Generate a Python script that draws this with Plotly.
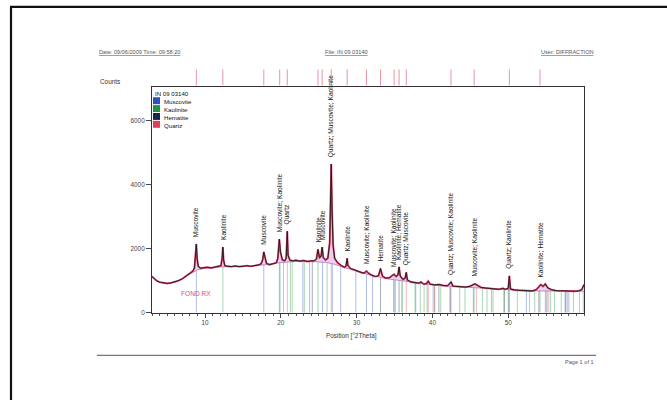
import numpy as np
import plotly.graph_objects as go

# ---- measured pattern (2Theta, counts) ----
obs_x = [3.0, 3.3, 3.6, 4.0, 4.5, 5.0, 5.5, 6.0, 6.5, 7.0, 7.5, 8.0, 8.4, 8.6, 8.75, 8.85, 8.95, 9.1, 9.4, 9.8,
         10.3, 10.8, 11.3, 11.8, 12.1, 12.25, 12.35, 12.45, 12.6, 13.0, 13.5, 14.0, 14.5, 15.0, 15.5, 16.0, 16.5,
         17.0, 17.4, 17.6, 17.75, 17.9, 18.1, 18.5, 19.0, 19.4, 19.6, 19.8, 19.95, 20.2, 20.5, 20.7, 20.85, 20.95,
         21.2, 21.6, 22.0, 22.5, 23.0, 23.5, 24.0, 24.4, 24.7, 24.9, 25.1, 25.3, 25.45, 25.6, 25.9, 26.2, 26.45,
         26.55, 26.65, 26.75, 26.9, 27.1, 27.5, 28.0, 28.4, 28.6, 28.75, 28.85, 29.2, 29.7, 30.2, 30.7, 31.0,
         31.3, 31.6, 32.0, 32.5, 32.9, 33.15, 33.4, 33.8, 34.3, 34.7, 34.95, 35.2, 35.45, 35.6, 35.75, 36.1,
         36.4, 36.55, 36.7, 37.2, 37.7, 38.2, 38.5, 38.8, 39.2, 39.45, 39.7, 40.3, 40.9, 41.4, 42.0, 42.45, 42.7,
         43.2, 43.8, 44.4, 45.0, 45.4, 45.6, 45.9, 46.4, 47.0, 47.6, 48.2, 48.8, 49.3, 49.6, 50.0, 50.15, 50.3,
         50.8, 51.4, 52.0, 52.6, 53.2, 53.7, 54.1, 54.3, 54.6, 54.9, 55.2, 55.7, 56.3, 56.9, 57.5, 58.1, 58.7,
         59.3, 59.7, 60.0]
obs_y = [1130, 1060, 1000, 955, 925, 915, 930, 960, 1000, 1060, 1140, 1230, 1300, 1400, 1750, 2150, 1700, 1450, 1390, 1400,
         1420, 1400, 1430, 1440, 1470, 1700, 2050, 1650, 1470, 1450, 1440, 1460, 1440, 1450, 1470, 1450, 1470,
         1490, 1530, 1650, 1900, 1700, 1540, 1500, 1530, 1560, 1700, 2300, 1900, 1650, 1620, 1700, 2550, 1800,
         1640, 1620, 1640, 1610, 1630, 1600, 1620, 1620, 1680, 1980, 1720, 1760, 2050, 1720, 1650, 1700, 2200,
         3400, 4650, 3300, 2100, 1700, 1560, 1470, 1420, 1460, 1700, 1480, 1380, 1340, 1290, 1250, 1240,
         1300, 1230, 1170, 1130, 1160, 1380, 1150, 1080, 1090, 1160, 1200, 1130, 1180, 1430, 1150, 1040,
         1080, 1260, 1020, 960, 950, 920, 960, 900, 900, 990, 890, 870, 880, 850, 840, 960, 830,
         820, 810, 800, 830, 880, 900, 860, 790, 770, 760, 740, 730, 760, 730, 760, 1150, 740,
         710, 700, 690, 680, 680, 720, 840, 880, 820, 900, 780, 720, 690, 680, 690, 670, 670,
         680, 720, 880]

# ---- fitted background ----
bg_x = [3, 4, 5, 6, 7, 8, 9, 10, 12, 14, 16, 18, 20, 22, 24, 26, 27, 28, 29, 30, 32, 34,
        36, 38, 40, 42, 44, 46, 48, 50, 52, 54, 56, 58, 60]
bg_y = [1110, 950, 910, 950, 1050, 1210, 1340, 1390, 1430, 1440, 1460, 1500, 1570, 1600, 1600, 1570, 1520, 1440, 1370, 1290, 1160, 1060,
        990, 920, 870, 830, 800, 780, 750, 720, 690, 680, 680, 670, 670]

# ---- reference patterns (stick positions, 2Theta) ----
phases = ["Muscovite", "Kaolinite", "Hematite", "Quartz"]
phase_colors = ["#2f4fc4", "#23913f", "#1e2448", "#e23d5c"]
muscovite_lines = [8.85, 17.75, 19.8, 22.9, 23.8, 25.5, 26.8, 27.9, 29.9, 31.3, 32.1, 34.95, 35.1, 37.8,
                   40.1, 42.4, 45.4, 47.8, 50.0, 52.4, 55.0, 57.5, 58.0]
kaolinite_lines = [12.35, 19.9, 20.35, 21.25, 21.5, 23.1, 24.9, 26.1, 34.9, 35.95, 36.05, 37.7, 38.4, 38.9,
                   39.3, 40.3, 41.1, 42.3, 43.6, 44.3, 45.5, 46.6, 47.2, 48.0, 49.5, 50.1, 51.2, 52.8, 53.5,
                   54.2, 55.15, 55.6, 56.1, 57.0, 57.8, 58.6, 59.4, 59.9]
hematite_lines = [24.15, 33.15, 35.6, 40.85, 49.45, 54.05, 57.6]
quartz_lines = [20.85, 26.65, 36.55, 39.45, 40.3, 42.45, 45.8, 50.15, 54.9, 55.35]
phase_lines = [muscovite_lines, kaolinite_lines, hematite_lines, quartz_lines]

# ---- identified peaks ----
peak_pos = [8.85, 12.35, 17.75, 19.85, 20.85, 24.9, 25.45, 26.65, 28.75, 31.3, 33.15, 34.95, 35.6,
            36.55, 42.45, 45.5, 50.15, 54.2]
peak_height = [2150, 2050, 1900, 2300, 2550, 1980, 2050, 4650, 1700, 1300, 1380, 1200, 1430,
               1260, 960, 900, 1150, 880]
peak_labels = ["Muscovite", "Kaolinite", "Muscovite", "Muscovite; Kaolinite", "Quartz", "Kaolinite",
               "Muscovite", "Quartz; Muscovite; Kaolinite", "Kaolinite", "Muscovite; Kaolinite", "Hematite",
               "Muscovite; Kaolinite", "Kaolinite; Hematite", "Quartz; Muscovite",
               "Quartz; Muscovite; Kaolinite", "Muscovite; Kaolinite", "Quartz; Kaolinite",
               "Kaolinite; Hematite"]

W, H = 667, 403
X0, X1, Y0, Y1 = 152, 584, 88, 315  # plot box in pixels


def px(x):
    return x / W


def py(y):
    return 1 - y / H


FONT = "Liberation Sans, Arial, sans-serif"
fig = go.Figure()

# reference sticks, drawn from zero up to the background
for name, color, lines in zip(phases, phase_colors, phase_lines):
    xs, ys = [], []
    for p in lines:
        xs += [p, p, None]
        ys += [0, float(np.interp(p, bg_x, bg_y)), None]
    fig.add_trace(go.Scatter(x=xs, y=ys, mode="lines", line=dict(color=color, width=0.9),
                             opacity=0.42, showlegend=False, hoverinfo="skip"))

# background and profile
fig.add_trace(go.Scatter(x=bg_x, y=bg_y, mode="lines", line=dict(color="#b57fcf", width=0.9),
                         showlegend=False, hoverinfo="skip"))
fig.add_trace(go.Scatter(x=obs_x, y=obs_y, mode="lines", line=dict(color="#e8466e", width=1.9),
                         fill="tonexty", fillcolor="rgba(200,120,210,0.35)",
                         showlegend=False, hoverinfo="skip"))
fig.add_trace(go.Scatter(x=obs_x, y=obs_y, mode="lines", line=dict(color="#161616", width=0.9),
                         showlegend=False, hoverinfo="skip"))

annotations = []
shapes = []

# peak labels
for p, h, t in zip(peak_pos, peak_height, peak_labels):
    annotations.append(dict(x=p, y=h, xref="x", yref="y", text=t, textangle=-90, showarrow=False,
                            xanchor="center", yanchor="bottom", yshift=5,
                            font=dict(family=FONT, size=6.6, color="#1c1c1c")))

# peak markers above the plot
for p in peak_pos:
    shapes.append(dict(type="line", xref="x", yref="paper", x0=p, x1=p, y0=py(86), y1=py(70),
                       line=dict(color="#e27a88", width=0.8)))

# legend block
LEG_FS = 6.1
annotations.append(dict(x=px(X0 + 2), y=py(Y0 + 1.5), xref="paper", yref="paper", text="IN 09 03140",
                        showarrow=False, xanchor="left", yanchor="top", borderpad=0,
                        font=dict(family=FONT, size=LEG_FS, color="#111")))
annotations.append(dict(x=px(X0 + 11), y=py(Y0 + 9.5), xref="paper", yref="paper",
                        text="<br>".join(phases), align="left",
                        showarrow=False, xanchor="left", yanchor="top", borderpad=0,
                        font=dict(family=FONT, size=LEG_FS, color="#111")))
for i, color in enumerate(phase_colors):
    yc = Y0 + 9.5 + 1.3 * LEG_FS * (i + 0.5)
    shapes.append(dict(type="rect", xref="paper", yref="paper", x0=px(X0 + 1), x1=px(X0 + 8),
                       y0=py(yc + 3.5), y1=py(yc - 3.5), fillcolor=color, line=dict(width=0)))

annotations.append(dict(x=8.8, y=590, xref="x", yref="y", text="FOND RX", showarrow=False,
                        font=dict(family=FONT, size=6.6, color="#e24a7c")))

# page header / footer
hdr = dict(family=FONT, size=5.6, color="#555")
annotations += [
    dict(x=px(97), y=py(52), xref="paper", yref="paper", text="<u>Date: 09/06/2009 Time: 09:58:20</u>",
         showarrow=False, xanchor="left", yanchor="middle", font=hdr),
    dict(x=px(346), y=py(52), xref="paper", yref="paper", text="<u>File: IN 09 03140</u>",
         showarrow=False, xanchor="center", yanchor="middle", font=hdr),
    dict(x=px(596), y=py(52), xref="paper", yref="paper", text="<u>User: DIFFRACTION</u>",
         showarrow=False, xanchor="right", yanchor="middle", font=hdr),
    dict(x=px(98), y=py(82), xref="paper", yref="paper", text="Counts",
         showarrow=False, xanchor="left", yanchor="middle", font=dict(family=FONT, size=6.4, color="#333")),
    dict(x=px(351), y=py(339), xref="paper", yref="paper", text="Position [°2Theta]",
         showarrow=False, xanchor="center", yanchor="middle", font=dict(family=FONT, size=6.4, color="#333")),
    dict(x=px(596), y=py(365), xref="paper", yref="paper", text="Page 1 of 1",
         showarrow=False, xanchor="right", yanchor="middle", font=hdr),
]
shapes += [
    dict(type="line", xref="paper", yref="paper", x0=px(97), x1=px(596), y0=py(358), y1=py(358),
         line=dict(color="#777", width=1.2)),
    # page frame
    dict(type="line", xref="paper", yref="paper", x0=px(11), x1=px(11), y0=py(7), y1=0,
         line=dict(color="#111", width=2.2)),
    dict(type="line", xref="paper", yref="paper", x0=px(10), x1=1, y0=py(7), y1=py(7),
         line=dict(color="#111", width=2.2)),
]

axis_font = dict(family=FONT, size=6.4, color="#444")
fig.update_layout(
    width=W, height=H, margin=dict(l=0, r=0, t=0, b=0),
    paper_bgcolor="white", plot_bgcolor="white", showlegend=False,
    annotations=annotations, shapes=shapes,
    xaxis=dict(domain=[px(X0), px(X1)], range=[3, 60], showgrid=False, zeroline=False,
               showline=True, linecolor="#333", linewidth=1, mirror=True,
               tickvals=[10, 20, 30, 40, 50], ticks="outside", ticklen=4, tickcolor="#444",
               tickfont=axis_font, minor=dict(dtick=1, ticks="outside", ticklen=2.5, tickcolor="#555")),
    yaxis=dict(domain=[py(Y1), py(Y0)], range=[0, 7050], showgrid=False, zeroline=False,
               showline=True, linecolor="#333", linewidth=1, mirror=True,
               tickvals=[0, 2000, 4000, 6000], ticks="outside", ticklen=5, tickcolor="#444",
               tickfont=axis_font),
)

fig.write_html("out.html")
